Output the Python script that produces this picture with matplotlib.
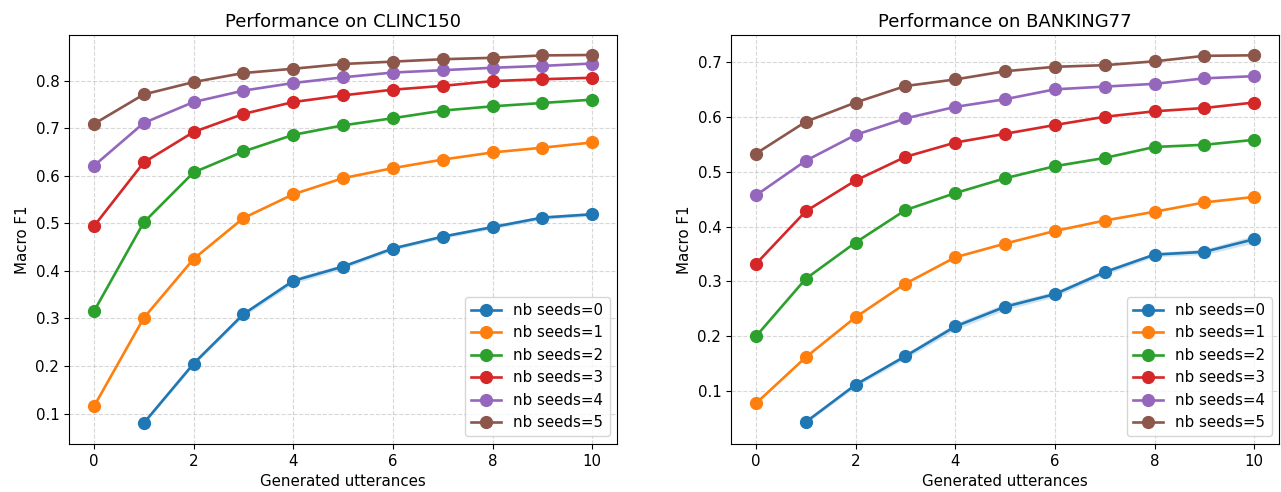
import matplotlib.pyplot as plt

plt.rcParams['font.size'] = 10.8
plt.rcParams['axes.titlesize'] = 13

utterances = list(range(11))
seeds = [0, 1, 2, 3, 4, 5]

# CLINC150, macro F1 per nb seeds (seeds=0 starts at 1 generated utterance)
clinc_s0 = [0.080, 0.205, 0.309, 0.379, 0.409, 0.447, 0.472, 0.492, 0.512, 0.519]
clinc_s1 = [0.115, 0.301, 0.425, 0.511, 0.561, 0.595, 0.616, 0.634, 0.649, 0.659, 0.670]
clinc_s2 = [0.315, 0.502, 0.607, 0.651, 0.686, 0.706, 0.721, 0.737, 0.746, 0.753, 0.760]
clinc_s3 = [0.494, 0.628, 0.692, 0.730, 0.755, 0.769, 0.781, 0.789, 0.799, 0.803, 0.806]
clinc_s4 = [0.621, 0.711, 0.755, 0.779, 0.795, 0.807, 0.817, 0.822, 0.827, 0.831, 0.836]
clinc_s5 = [0.709, 0.771, 0.797, 0.816, 0.825, 0.835, 0.840, 0.845, 0.848, 0.853, 0.854]
clinc_s0_err = [0.003, 0.004, 0.005, 0.006, 0.005, 0.004, 0.004, 0.004, 0.004, 0.004]

# BANKING77
bank_s0 = [0.044, 0.112, 0.164, 0.218, 0.254, 0.277, 0.317, 0.349, 0.354, 0.377]
bank_s1 = [0.078, 0.162, 0.235, 0.296, 0.344, 0.369, 0.392, 0.411, 0.427, 0.444, 0.454]
bank_s2 = [0.200, 0.305, 0.371, 0.430, 0.461, 0.488, 0.510, 0.525, 0.545, 0.549, 0.558]
bank_s3 = [0.332, 0.428, 0.484, 0.527, 0.553, 0.569, 0.585, 0.600, 0.610, 0.616, 0.626]
bank_s4 = [0.457, 0.520, 0.567, 0.597, 0.618, 0.632, 0.650, 0.655, 0.660, 0.670, 0.674]
bank_s5 = [0.533, 0.591, 0.626, 0.656, 0.668, 0.683, 0.691, 0.694, 0.701, 0.711, 0.712]
bank_s0_err = [0.003, 0.004, 0.005, 0.006, 0.006, 0.005, 0.005, 0.004, 0.005, 0.007]

datasets = [
    ("CLINC150", [clinc_s0, clinc_s1, clinc_s2, clinc_s3, clinc_s4, clinc_s5], clinc_s0_err, (0.036, 0.896)),
    ("BANKING77", [bank_s0, bank_s1, bank_s2, bank_s3, bank_s4, bank_s5], bank_s0_err, (0.004, 0.749)),
]

fig = plt.figure(figsize=(12.81, 4.92), dpi=100)
axes = [fig.add_axes([0.0539, 0.0976, 0.4278, 0.8313]),
        fig.add_axes([0.5707, 0.0976, 0.4278, 0.8313])]

for ax, (name, series, err, ylim) in zip(axes, datasets):
    for n, ys in zip(seeds, series):
        xs = utterances[len(utterances) - len(ys):]
        ax.plot(xs, ys, marker='o', markersize=8.5, linewidth=1.9, label='nb seeds=%d' % n)
        if n == 0:
            lo = [y - e for y, e in zip(ys, err)]
            hi = [y + e for y, e in zip(ys, err)]
            ax.fill_between(xs, lo, hi, color='C0', alpha=0.2, linewidth=0)
    ax.set_ylim(*ylim)
    ax.set_xlim(-0.5, 10.5)
    ax.grid(True, linestyle='--', alpha=0.5)
    ax.legend(loc='lower right')
    ax.set_title("Performance on " + name)
    ax.set_xlabel("Generated utterances")
    ax.set_ylabel("Macro F1")

plt.savefig('out.png', dpi=100)
